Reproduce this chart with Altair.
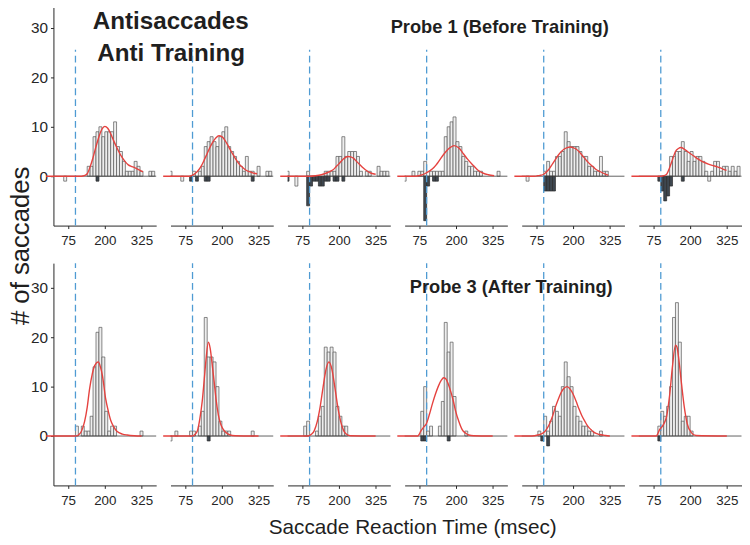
import altair as alt
import pandas as pd

# ---------------- constants ----------------
BIN_WIDTH = 10
X_DOMAIN = [25, 375]
X_TICKS = [75, 200, 325]
Y_TICKS = [0, 10, 20, 30]
Y_DOMAINS = [[-10, 35], [-10, 35]]
DASH_X = 100
DASH_TOP = [25.6, 35]
PANEL_W = 104
PANEL_H = [225, 225]
H_SPACING = 14.5
V_SPACING = 38

# ---------------- histogram counts (bin start -> count) ----------------
top_light = [
    {60: -1, 140: 2, 150: 2, 160: 8, 170: 9, 180: 10, 190: 8, 200: 9, 210: 9, 220: 9, 230: 11,
     240: 6, 250: 5, 260: 3, 270: 1, 280: 1, 290: 1, 300: 3, 310: 2, 320: 1, 350: 1, 360: 1},
    {20: 1, 60: -1, 100: 1, 120: 1, 130: 2, 140: 6, 150: 7, 160: 8, 170: 7, 180: 6, 190: 8, 200: 9,
     210: 10, 220: 6, 230: 5, 240: 4, 250: 3, 260: 2, 270: 1, 280: 4, 290: 1, 300: 1, 320: 2, 350: 1, 360: 1},
    {20: 1, 50: -2, 90: 1, 150: 1, 160: 1, 170: 1, 180: 1, 190: 4, 200: 4, 210: 8, 220: 4, 230: 5,
     240: 5, 250: 5, 260: 4, 270: 1, 290: 1, 300: 1, 330: 2, 340: 1, 350: 1, 360: 1},
    {20: -1, 50: 1, 70: 1, 80: 1, 90: 3, 110: 1, 120: 1, 130: 1, 140: 1, 150: 1, 160: 8, 170: 10,
     180: 11, 190: 12, 200: 7, 210: 6, 220: 4, 230: 3, 240: 2, 250: 2, 260: 1, 270: 1, 280: 1, 340: 1},
    {40: -1, 100: 1, 110: 3, 120: 1, 130: 1, 140: 4, 150: 4, 160: 5, 170: 9, 180: 7, 190: 6, 200: 6,
     210: 6, 220: 5, 230: 4, 240: 4, 250: 2, 260: 2, 270: 1, 280: 1, 290: 4, 300: 1, 310: 1},
    {130: 4, 140: 4, 150: 5, 160: 5, 170: 7, 180: 5, 190: 3, 200: 5, 210: 3, 220: 4, 230: 4, 240: 3,
     250: 1, 260: -1, 270: 1, 280: 3, 290: 3, 300: 1, 310: 2, 320: 2, 330: 1, 340: 2, 350: 1, 360: 2},
]
top_dark = [
    {170: -1},
    {90: -1, 110: -1, 140: -1, 150: -1, 300: -1},
    {20: -1, 90: -6, 100: -2, 110: -1, 120: -1, 130: -2, 140: -2, 150: -1, 160: -1, 180: -1, 190: -1, 210: -1},
    {90: -9, 100: -2, 120: -1, 130: -1},
    {100: -3, 110: -3, 120: -3, 130: -3},
    {90: -1, 100: -3, 110: -5, 120: -4, 130: -2, 170: -1},
]
bottom_light = [
    {100: 2, 120: 2, 130: 1, 140: 1, 150: 4, 160: 14, 170: 21, 180: 22, 190: 16, 200: 5, 210: 1,
     220: 2, 230: 2, 320: 1},
    {20: -1, 40: 1, 90: 1, 100: 1, 120: 2, 130: 5, 140: 24, 150: 16, 160: 16, 170: 15, 180: 10,
     190: 3, 200: 1, 210: 1, 220: 1, 300: 1},
    {80: 2, 90: 3, 120: 1, 130: 4, 140: 6, 150: 18, 160: 17, 170: 18, 180: 17, 190: 6, 200: 4,
     210: 2, 220: 2},
    {80: 5, 90: 10, 100: 1, 110: 2, 140: 2, 150: 7, 160: 23, 170: 17, 180: 19, 190: 8, 230: 1},
    {80: 1, 100: 4, 110: 1, 120: 3, 130: 6, 140: 5, 150: 4, 160: 10, 170: 15, 180: 12, 190: 10,
     200: 6, 210: 4, 220: 3, 230: 2, 240: 2, 250: 1, 260: 1, 290: 1},
    {90: 2, 100: 5, 110: 4, 120: 6, 130: 10, 140: 24, 150: 27, 160: 19, 170: 3, 180: 4, 190: 4, 200: 1},
]
bottom_dark = [
    {},
    {150: -1},
    {},
    {80: -1, 90: -1, 170: -1},
    {90: -1, 110: -2},
    {90: -1},
]

# ---------------- fitted curves, read point by point (ms, count) ----------------
top_curves = [
    [(0, 0), (120, 0), (130, 0.1), (140, 0.5), (150, 1.9), (160, 3.8), (170, 6), (180, 8), (190, 9.5),
     (200, 10.1), (210, 9.7), (220, 8.6), (230, 7.2), (240, 5.9), (250, 4.7), (260, 3.7), (270, 2.9),
     (280, 2.3), (290, 2.0), (300, 1.8), (310, 1.5), (320, 1.2), (330, 0.9)],
    [(0, 0), (90, 0), (100, 0.2), (110, 0.6), (120, 1.2), (130, 2.1), (140, 3.3), (150, 4.6), (160, 5.9),
     (170, 7), (180, 7.8), (190, 8.2), (200, 8), (210, 7.3), (220, 6.3), (230, 5.2), (240, 4.2),
     (250, 3.2), (260, 2.4), (270, 1.8), (280, 1.3), (290, 1.0), (300, 0.8), (310, 0.6), (320, 0.5)],
    [(0, 0), (100, 0), (120, 0.1), (140, 0.3), (160, 0.7), (170, 1.0), (180, 1.3), (190, 1.9), (200, 2.5),
     (210, 3.2), (220, 3.7), (230, 4), (240, 3.9), (250, 3.6), (260, 3), (270, 2.4), (280, 1.8),
     (290, 1.3), (300, 0.9), (310, 0.6), (325, 0.4)],
    [(0, 0), (60, 0), (80, 0.2), (100, 0.7), (120, 1.5), (131, 2.2), (140, 2.9), (159, 4.5), (180, 5.8),
     (193, 6.2), (210, 5.7), (226, 4.5), (240, 3.4), (260, 2.1), (275, 1.2), (293, 0.6), (310, 0.3),
     (330, 0.1)],
    [(0, 0), (70, 0), (80, 0.1), (90, 0.2), (100, 0.4), (110, 0.9), (120, 1.6), (130, 2.5), (140, 3.4),
     (150, 4.3), (160, 5), (170, 5.5), (180, 5.8), (190, 5.9), (200, 5.8), (210, 5.5), (220, 5),
     (230, 4.3), (240, 3.6), (250, 2.9), (260, 2.3), (270, 1.8), (280, 1.3), (290, 1), (300, 0.7),
     (310, 0.4), (320, 0.2)],
    [(0, 0), (100, 0), (110, 0.1), (120, 0.4), (130, 1.7), (140, 3.4), (150, 5.0), (160, 5.6), (168, 5.8),
     (180, 5.5), (193, 4.9), (210, 4.2), (226, 3.5), (240, 3.0), (260, 2.5), (275, 2.2), (293, 1.9),
     (310, 1.5), (324, 1.2)],
]
bottom_curves = [
    [(0, 0), (100, 0), (110, 0.2), (120, 0.9), (131, 2.9), (140, 5.8), (148, 9.5), (157, 12.5), (165, 14.2),
     (178, 15), (185, 14), (192, 12.2), (203, 7.5), (212, 5), (220, 3.2), (230, 1.9), (242, 0.9),
     (260, 0.4), (276, 0.2), (300, 0.05), (325, 0)],
    [(0, 0), (100, 0), (108, 0.3), (117, 1.1), (125, 3.5), (133, 7), (140, 11.5), (146, 15.5), (154, 19),
     (160, 17.8), (167, 14.5), (174, 10.8), (180, 7.5), (188, 4.3), (195, 2.6), (203, 1.5), (212, 0.8),
     (225, 0.3), (245, 0.05), (325, 0)],
    [(0, 0), (95, 0), (106, 0.35), (116, 1.1), (126, 2.9), (136, 5.9), (146, 9.9), (156, 13.5), (166, 15),
     (176, 13.5), (186, 9.9), (196, 5.9), (206, 2.9), (216, 1.1), (226, 0.35), (240, 0.05), (325, 0)],
    [(0, 0), (70, 0), (75, 0.4), (80, 1), (90, 1.8), (100, 2.6), (110, 4.5), (120, 6.6), (130, 8.5),
     (140, 10.1), (150, 11.3), (158, 11.8), (165, 11.6), (179, 9.6), (190, 7.3), (198, 5.2), (210, 2.9),
     (221, 1.3), (232, 0.6), (243, 0.2), (260, 0.05), (325, 0)],
    [(0, 0), (60, 0), (80, 0.2), (90, 0.4), (100, 0.7), (110, 1.4), (120, 2.5), (130, 4), (140, 5.9),
     (150, 7.5), (160, 8.9), (170, 9.7), (180, 10), (190, 9.5), (200, 8.5), (210, 7.1), (220, 5.5),
     (230, 4.1), (240, 3), (250, 2), (261, 1.3), (270, 0.8), (281, 0.5), (295, 0.25), (311, 0.1), (325, 0)],
    [(0, 0), (85, 0), (90, 0.5), (95, 1.2), (100, 1.6), (110, 2.4), (120, 4), (130, 8.2), (140, 14.2),
     (150, 18.4), (155, 18), (160, 16.2), (170, 10.9), (180, 5.9), (190, 2.5), (204, 0.7), (220, 0.1),
     (325, 0)],
]

# ---------------- text annotations: (row, col, text, ms, count, size, weight, angle) ----------------
annotations = [
    (0, 0, "Antisaccades", 424.5, 29.9, 24.5, "bold", 0),
    (0, 0, "Anti Training", 426, 23.3, 24.5, "bold", 0),
    (0, 3, "Probe 1 (Before Training)", 349, 29.0, 18.5, "bold", 0),
    (1, 3, "Probe 3 (After Training)", 388, 29.0, 18.5, "bold", 0),
    (1, 3, "Saccade Reaction Time (msec)", 52.6, -19.8, 21, "normal", 0),
    (0, 0, "# of saccades", -83.7, -14.1, 26, "normal", 270),
]

FONT = "Liberation Sans"
TEXT_COLOR = "#1f1f1f"
AXIS_COLOR = "#262626"
LIGHT_FILL = "#eeeeee"
LIGHT_STROKE = "#555555"
DARK_FILL = "#3e4750"
DARK_STROKE = "#2a2a2a"
CURVE_COLOR = "#e5423f"
DASH_COLOR = "#4f9bd3"


def bars_frame(counts):
    bins = sorted(counts)
    return pd.DataFrame({
        "x0": bins,
        "x1": [b + BIN_WIDTH for b in bins],
        "n": [counts[b] for b in bins],
    })


def make_panel(row, col, light, dark, curve):
    xs = alt.Scale(domain=X_DOMAIN, nice=False, zero=False)
    ys = alt.Scale(domain=Y_DOMAINS[row], nice=False, zero=False)
    xa = alt.Axis(values=X_TICKS, title=None, grid=False, labelFontSize=13.5, labelPadding=5,
                  tickSize=3, labelFont=FONT, labelColor=AXIS_COLOR, domainColor=AXIS_COLOR,
                  tickColor=AXIS_COLOR)
    if col == 0:
        ya = alt.Axis(values=Y_TICKS, title=None, grid=False, labelFontSize=15.5, labelPadding=3,
                      tickSize=3, labelFont=FONT, labelColor=AXIS_COLOR, domainColor=AXIS_COLOR,
                      tickColor=AXIS_COLOR)
    else:
        ya = None

    def X(f):
        return alt.X(f"{f}:Q", scale=xs, axis=xa)

    def Y(f):
        return alt.Y(f"{f}:Q", scale=ys, axis=ya)

    layers = []
    layers.append(
        alt.Chart(bars_frame(light)).mark_bar(clip=True, fill=LIGHT_FILL, stroke=LIGHT_STROKE,
                                               strokeWidth=0.7)
        .encode(x=X("x0"), x2="x1", y=Y("n"), y2=alt.datum(0))
    )
    if dark:
        layers.append(
            alt.Chart(bars_frame(dark)).mark_bar(clip=True, fill=DARK_FILL, stroke=DARK_STROKE,
                                                  strokeWidth=0.7)
            .encode(x=X("x0"), x2="x1", y=Y("n"), y2=alt.datum(0))
        )
    base_df = pd.DataFrame({"x": [X_DOMAIN[0]], "x2": [X_DOMAIN[1]], "y": [0]})
    layers.append(
        alt.Chart(base_df).mark_rule(color="#3a3a3a", strokeWidth=0.8)
        .encode(x=X("x"), x2="x2", y=Y("y"))
    )
    dash_df = pd.DataFrame({"x": [DASH_X], "y": [Y_DOMAINS[row][0]], "y2": [DASH_TOP[row]]})
    layers.append(
        alt.Chart(dash_df).mark_rule(color=DASH_COLOR, strokeWidth=1.3, strokeDash=[7, 4])
        .encode(x=X("x"), y=Y("y"), y2="y2")
    )
    curve_df = pd.DataFrame({"x": [p[0] for p in curve], "y": [p[1] for p in curve]})
    layers.append(
        alt.Chart(curve_df).mark_line(color=CURVE_COLOR, strokeWidth=1.4, interpolate="monotone",
                                      clip=False)
        .encode(x=X("x"), y=Y("y"))
    )
    for (r, c, txt, tx, ty, size, weight, angle) in annotations:
        if r == row and c == col:
            tdf = pd.DataFrame({"x": [tx], "y": [ty], "t": [txt]})
            if angle:
                mk = alt.Chart(tdf).mark_text(font=FONT, fontSize=size, fontWeight=weight,
                                              color=TEXT_COLOR, align="center", baseline="middle",
                                              angle=angle)
            else:
                mk = alt.Chart(tdf).mark_text(font=FONT, fontSize=size, fontWeight=weight,
                                              color=TEXT_COLOR, align="center",
                                              baseline="alphabetic")
            layers.append(mk.encode(x=X("x"), y=Y("y"), text="t:N"))

    return alt.layer(*layers).properties(width=PANEL_W, height=PANEL_H[row])


panels = []
for i in range(6):
    panels.append(make_panel(0, i, top_light[i], top_dark[i], top_curves[i]))
for i in range(6):
    panels.append(make_panel(1, i, bottom_light[i], bottom_dark[i], bottom_curves[i]))

chart = (
    alt.concat(
        *panels,
        columns=6,
        spacing=alt.RowColnumber(row=V_SPACING, column=H_SPACING),
        bounds="flush",
        padding={"top": -8, "left": 0, "right": 0, "bottom": 0},
    )
    .configure_view(stroke=None)
)

chart.save("out.html", embed_options={"renderer": "svg", "actions": False})
